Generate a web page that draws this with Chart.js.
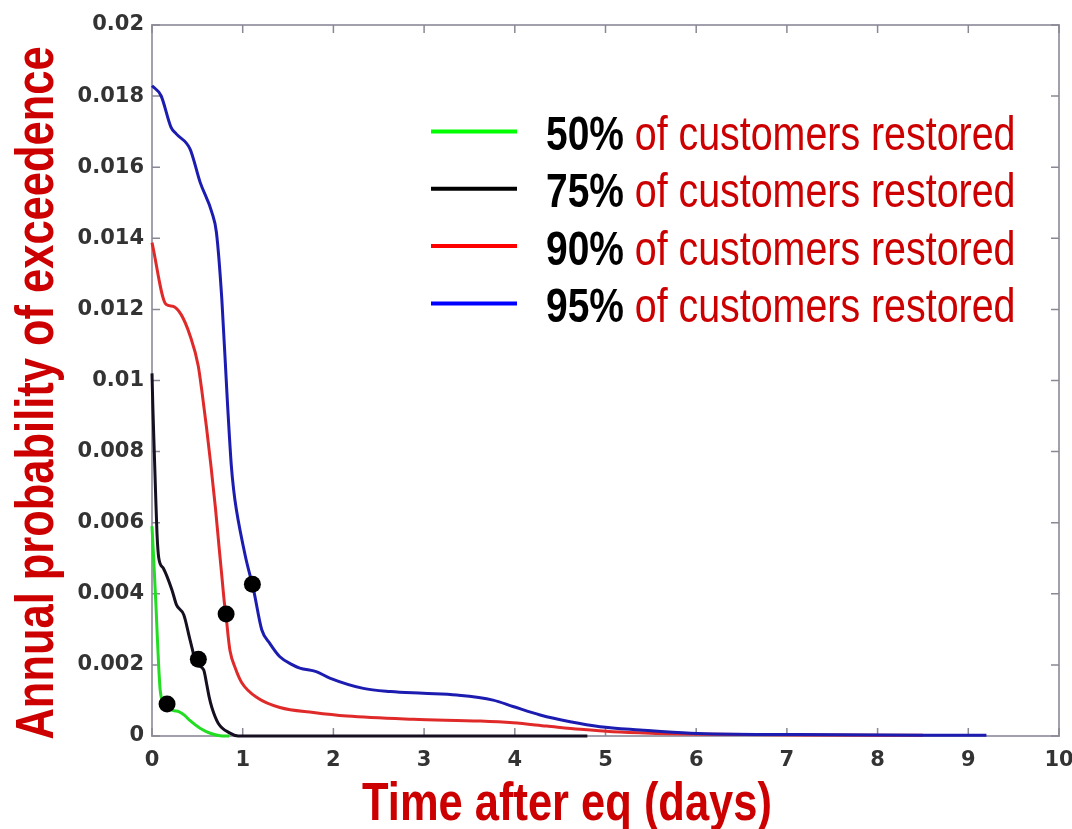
<!DOCTYPE html>
<html>
<head>
<meta charset="utf-8">
<script src="https://cdn.jsdelivr.net/npm/chart.js@4.4.1/dist/chart.umd.min.js"></script>
<style>
html,body{margin:0;padding:0;background:#ffffff;}
#wrap{width:1072px;height:829px;position:relative;}
</style>
</head>
<body>
<div id="wrap"><canvas id="c" width="1072" height="829"></canvas></div>
<script>
// ---------- data ----------
const seriesPercent = ['50%', '75%', '90%', '95%'];
const legendSuffix = 'of customers restored';
const xTitle = 'Time after eq (days)';
const yTitle = 'Annual probability of exceedence';

const xTickValues = [0, 1, 2, 3, 4, 5, 6, 7, 8, 9, 10];
const xTickLabels = ['0', '1', '2', '3', '4', '5', '6', '7', '8', '9', '10'];
const yTickValues = [0, 0.002, 0.004, 0.006, 0.008, 0.01, 0.012, 0.014, 0.016, 0.018, 0.02];
const yTickLabels = ['0', '0.002', '0.004', '0.006', '0.008', '0.01', '0.012', '0.014', '0.016', '0.018', '0.02'];

const days50 = [0, 0.02, 0.045, 0.06, 0.075, 0.09, 0.12, 0.16, 0.23, 0.30, 0.36, 0.42, 0.53, 0.65, 0.75, 0.85];
const prob50 = [0.0059, 0.0049, 0.0036, 0.0027, 0.0019, 0.0013, 0.00095, 0.00082, 0.00072, 0.00068, 0.00058, 0.00043, 0.00022, 0.00007, 0.00001, 0];

const days75 = [0, 0.01, 0.025, 0.04, 0.055, 0.075, 0.125, 0.22, 0.27, 0.35, 0.42, 0.49, 0.57, 0.60, 0.63, 0.66, 0.73, 0.86, 0.95, 4.8];
const prob75 = [0.0102, 0.0092, 0.0080, 0.0068, 0.0057, 0.0050, 0.00472, 0.00411, 0.00369, 0.00341, 0.0027, 0.00205, 0.00186, 0.0015, 0.0011, 0.0008, 0.00036, 0.00008, 0, 0];

const days90 = [0, 0.155, 0.23, 0.32, 0.42, 0.51, 0.55, 0.60, 0.65, 0.70, 0.74, 0.77, 0.80, 0.82, 0.84, 0.86, 0.92, 0.99, 1.17, 1.41, 1.78, 2.15, 2.88, 3.62, 3.98, 4.35, 4.72, 5.08, 5.5, 6.2, 7.3, 8.5];
const prob90 = [0.01388, 0.01214, 0.01209, 0.01186, 0.01126, 0.01041, 0.0097, 0.0087, 0.0076, 0.0064, 0.0053, 0.0045, 0.0037, 0.0033, 0.0028, 0.0024, 0.0019, 0.0015, 0.00106, 0.0008, 0.00066, 0.00056, 0.00047, 0.00042, 0.00037, 0.00028, 0.00019, 0.00012, 0.00008, 0.00005, 0.00003, 0.00002];

const days95 = [0, 0.1, 0.21, 0.27, 0.42, 0.53, 0.66, 0.71, 0.77, 0.83, 0.875, 0.90, 0.93, 1.03, 1.12, 1.21, 1.30, 1.41, 1.55, 1.63, 1.81, 1.96, 2.33, 2.63, 2.99, 3.36, 3.76, 3.98, 4.28, 4.61, 4.94, 5.38, 5.94, 7.1, 9.2];
const prob95 = [0.01829, 0.01801, 0.01712, 0.01693, 0.01651, 0.01558, 0.01473, 0.01417, 0.01228, 0.00946, 0.00759, 0.00693, 0.00637, 0.00505, 0.00411, 0.00299, 0.0026, 0.00223, 0.002, 0.00191, 0.00181, 0.00163, 0.00134, 0.00125, 0.0012, 0.00115, 0.00101, 0.00083, 0.00059, 0.0004, 0.00026, 0.00017, 0.00008, 0.00004, 0.00002];

const markerDays = [0.166, 0.511, 0.817, 1.107];
const markerProb = [0.0009, 0.00216, 0.00343, 0.00427];

// ---------- styling ----------
const curveColors = ['#22dd22', '#150f20', '#e02a2a', '#1c1cb0'];
const legendLineColors = ['#00ff00', '#000000', '#ff0000', '#0000ff'];
const titleRed = '#cc0000';

function pts(xs, ys) { return xs.map((x, i) => ({ x: x, y: ys[i] })); }

const seriesDays = [days50, days75, days90, days95];
const seriesProb = [prob50, prob75, prob90, prob95];

const datasets = seriesPercent.map((p, i) => ({
  label: p + ' ' + legendSuffix,
  data: pts(seriesDays[i], seriesProb[i]),
  borderColor: curveColors[i],
  backgroundColor: curveColors[i],
  borderWidth: 3,
  pointRadius: 0,
  fill: false,
  cubicInterpolationMode: 'monotone',
  clip: 6,
  order: 4 - i
}));
datasets.push({
  label: 'markers',
  type: 'scatter',
  data: pts(markerDays, markerProb),
  pointRadius: 8.5,
  pointBackgroundColor: '#000',
  pointBorderColor: '#000',
  borderWidth: 0,
  showLine: false,
  clip: false,
  order: 0
});

// ---------- condensed font support ----------
let hasNarrow = false;
(function () {
  const c = document.createElement('canvas').getContext('2d');
  c.font = '40px "Liberation Sans Narrow", monospace';
  const a = c.measureText('abcdefghij mmm').width;
  c.font = '40px monospace';
  const b = c.measureText('abcdefghij mmm').width;
  hasNarrow = Math.abs(a - b) > 0.5;
})();

function setNarrow(ctx, size, weight) {
  if (hasNarrow) ctx.font = weight + ' ' + size + 'px "Liberation Sans Narrow", "Liberation Sans", Arial, sans-serif';
  else ctx.font = weight + ' ' + size + 'px "Liberation Sans", Arial, sans-serif';
}
const squeeze = () => (hasNarrow ? 1 : 0.82);

const frameAndText = {
  id: 'frameAndText',
  beforeDatasetsDraw(chart) {
    const { ctx, chartArea: a, scales } = chart;
    ctx.save();
    ctx.strokeStyle = '#a2a0ac';
    ctx.lineWidth = 2;
    ctx.strokeRect(a.left, a.top, a.right - a.left, a.bottom - a.top);
    ctx.strokeStyle = '#8a8894';
    ctx.lineWidth = 1.5;
    const tl = 8;
    ctx.beginPath();
    xTickValues.forEach(v => {
      const x = scales.x.getPixelForValue(v);
      ctx.moveTo(x, a.bottom); ctx.lineTo(x, a.bottom - tl);
      ctx.moveTo(x, a.top); ctx.lineTo(x, a.top + tl);
    });
    yTickValues.forEach(v => {
      const y = scales.y.getPixelForValue(v);
      ctx.moveTo(a.left, y); ctx.lineTo(a.left + tl, y);
      ctx.moveTo(a.right, y); ctx.lineTo(a.right - tl, y);
    });
    ctx.stroke();
    ctx.restore();
  },
  afterDraw(chart) {
    const { ctx } = chart;
    const sq = squeeze();
    ctx.save();
    // x title
    ctx.fillStyle = titleRed;
    setNarrow(ctx, 53, 'bold');
    ctx.textAlign = 'center';
    ctx.textBaseline = 'alphabetic';
    ctx.save();
    ctx.translate(567, 820);
    ctx.scale(sq, 1);
    ctx.fillText(xTitle, 0, 0);
    ctx.restore();
    // y title
    setNarrow(ctx, 53, 'bold');
    ctx.save();
    ctx.translate(53, 393);
    ctx.rotate(-Math.PI / 2);
    ctx.scale(sq, 1);
    ctx.fillText(yTitle, 0, 0);
    ctx.restore();
    // legend
    const baseY = 150, step = 57.3;
    chart.data.datasets.slice(0, seriesPercent.length).forEach((ds, i) => {
      const by = baseY + i * step;
      ctx.strokeStyle = legendLineColors[i];
      ctx.lineWidth = 4;
      ctx.beginPath();
      ctx.moveTo(431, by - 18.5);
      ctx.lineTo(517, by - 18.5);
      ctx.stroke();
      ctx.textAlign = 'left';
      ctx.save();
      ctx.translate(546, by);
      ctx.scale(sq, 1);
      setNarrow(ctx, 47.5, 'bold');
      ctx.fillStyle = '#000';
      const pct = seriesPercent[i];
      ctx.fillText(pct, 0, 0);
      const w = ctx.measureText(pct + ' ').width;
      setNarrow(ctx, 48, 'normal');
      ctx.fillStyle = titleRed;
      ctx.fillText(legendSuffix, w, 0);
      ctx.restore();
    });
    ctx.restore();
  }
};

const tickFont = { family: '"DejaVu Sans", sans-serif', size: 21, weight: 'bold' };

new Chart(document.getElementById('c'), {
  type: 'line',
  data: { datasets: datasets },
  options: {
    responsive: false,
    animation: false,
    devicePixelRatio: 1,
    layout: { padding: { left: 0, right: 13, top: 25, bottom: 0 } },
    plugins: { legend: { display: false }, tooltip: { enabled: false } },
    scales: {
      x: {
        type: 'linear',
        min: 0, max: 10,
        grid: { display: false, drawTicks: false },
        border: { display: false },
        afterBuildTicks: s => { s.ticks = xTickValues.map(v => ({ value: v })); },
        afterFit: s => { s.height = 93; s.paddingLeft = 0; s.paddingRight = 0; },
        ticks: {
          font: tickFont, color: '#333', padding: 12, maxRotation: 0, autoSkip: false,
          callback: (v, i) => xTickLabels[i]
        }
      },
      y: {
        type: 'linear',
        min: 0, max: 0.02,
        grid: { display: false, drawTicks: false },
        border: { display: false },
        afterBuildTicks: s => { s.ticks = yTickValues.map(v => ({ value: v })); },
        afterFit: s => { s.width = 152; s.paddingTop = 0; s.paddingBottom = 0; },
        ticks: {
          font: tickFont, color: '#333', padding: 8, autoSkip: false,
          callback: (v, i) => yTickLabels[i]
        }
      }
    }
  },
  plugins: [frameAndText]
});
</script>
</body>
</html>
